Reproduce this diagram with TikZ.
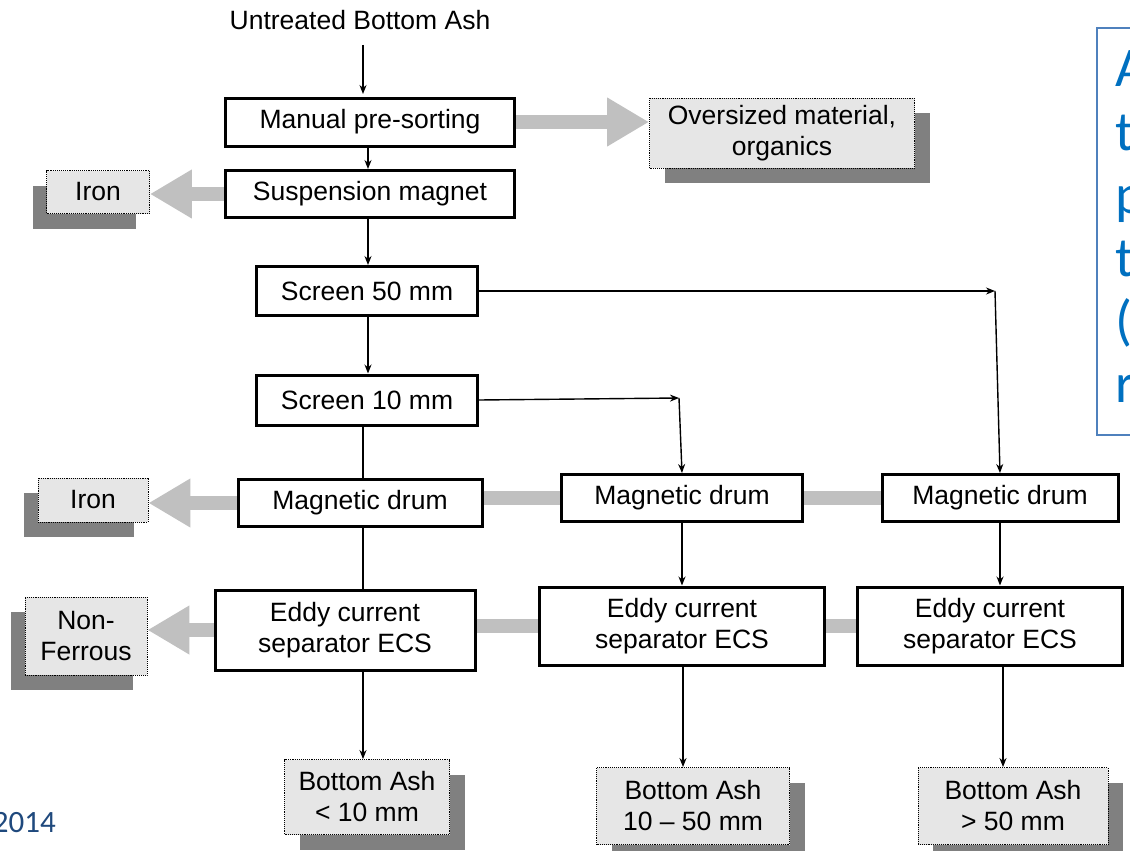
\documentclass[tikz,border=0pt]{standalone}
\usepackage{fontspec}
\setmainfont{Liberation Sans}
\newfontfamily\calfont{Carlito}
\usetikzlibrary{arrows.meta,shadows}
\definecolor{outfill}{HTML}{E6E6E6}
\definecolor{shadowgray}{HTML}{808080}
\definecolor{bargray}{HTML}{C0C0C0}
\definecolor{bluetext}{HTML}{0070C0}
\definecolor{blueborder}{HTML}{4F81BD}
\definecolor{yeartext}{HTML}{1F497D}
\tikzset{
  lbl/.style={font=\fontsize{26.5}{31}\selectfont, align=center, inner sep=0pt},
  proc/.style={lbl, draw=black, line width=3pt, fill=white},
  outR/.style={lbl, draw=black, densely dotted, line width=0.9pt, fill=outfill,
     drop shadow={shadow xshift=15pt, shadow yshift=-15pt, fill=shadowgray, opacity=1}},
  outL/.style={lbl, draw=black, densely dotted, line width=0.9pt, fill=outfill,
     drop shadow={shadow xshift=-14pt, shadow yshift=-15pt, fill=shadowgray, opacity=1}},
  conn/.style={line width=1.4pt, -{Stealth[length=9pt,width=7pt]}},
  plain/.style={line width=1.4pt},
  grayarrow/.style={bargray, line width=14pt, -{Triangle[length=42pt,width=46pt]}},
  graybar/.style={bargray, line width=14pt},
  slidetxt/.style={anchor=base west, inner sep=0pt, text=bluetext, font=\calfont\fontsize{56}{63}\selectfont},
}
\begin{document}
\begin{tikzpicture}[x=1pt,y=-1pt]
\useasboundingbox (0,0) rectangle (1130,851);
\clip (0,0) rectangle (1130,851);
\fill[white] (0,0) rectangle (1130,851);

% main process boxes
\node[proc, minimum width=289pt, minimum height=48pt] (mps) at (370,122) {Manual pre-sorting};
\node[proc, minimum width=289pt, minimum height=47pt] (susp) at (370,194) {Suspension magnet};
\node[proc, minimum width=221pt, minimum height=49pt] (scr50) at (367,291) {Screen 50 mm};
\node[proc, minimum width=221pt, minimum height=50pt] (scr10) at (367,400) {Screen 10 mm};
\node[proc, minimum width=244pt, minimum height=47pt] (md1) at (360,503) {Magnetic drum};
\node[proc, minimum width=241pt, minimum height=47pt] (md2) at (682,498) {Magnetic drum};
\node[proc, minimum width=236pt, minimum height=47pt] (md3) at (1000,498) {Magnetic drum};
\node[proc, minimum width=260pt, minimum height=80pt] (ecs1) at (345,630) {Eddy current\\separator ECS};
\node[proc, minimum width=285pt, minimum height=78pt] (ecs2) at (682,626) {Eddy current\\separator ECS};
\node[proc, minimum width=265pt, minimum height=78pt] (ecs3) at (990,626) {Eddy current\\separator ECS};

% output boxes
\node[outR, minimum width=265pt, minimum height=70pt] (over) at (782,133) {Oversized material,\\organics};
\node[outL, minimum width=103pt, minimum height=43pt] (iron1) at (98,192) {Iron};
\node[outL, minimum width=110pt, minimum height=44pt] (iron2) at (93,500) {Iron};
\node[outL, minimum width=122pt, minimum height=78pt] (nonf) at (86,636) {Non-\\Ferrous};
\node[outR, minimum width=165pt, minimum height=75pt] (ba1) at (367,797) {Bottom Ash\\< 10 mm};
\node[outR, minimum width=193pt, minimum height=77pt] (ba2) at (693,806) {Bottom Ash\\10 – 50 mm};
\node[outR, minimum width=190pt, minimum height=77pt] (ba3) at (1013,806) {Bottom Ash\\> 50 mm};

% input
\node[lbl] (input) at (360,20) {Untreated Bottom Ash};
\coordinate (inStart) at (363,45);
\coordinate (inEnd) at (363,94);
\draw[conn] (inStart) -- (inEnd);

% gray material flows
\draw[grayarrow] (mps.east) -- (mps.east -| over.west);
\draw[grayarrow] (susp.west) -- (susp.west -| iron1.east);
\draw[grayarrow] (md1.west) -- (md1.west -| iron2.east);
\draw[grayarrow] (ecs1.west) -- (ecs1.west -| nonf.east);
\draw[graybar] (md1.east |- md2.west) -- (md2.west);
\draw[graybar] (md2.east) -- (md3.west);
\draw[graybar] (ecs1.east |- ecs2.west) -- (ecs2.west);
\draw[graybar] (ecs2.east) -- (ecs3.west);

% black connectors
\draw[conn] (mps.south -| 368,0) -- (susp.north -| 368,0);
\draw[conn] (susp.south -| 368,0) -- (scr50.north -| 368,0);
\draw[conn] (scr50.south -| 368,0) -- (scr10.north -| 368,0);
\draw[plain] (scr10.south -| 363,0) -- (md1.north -| 363,0);
\draw[plain] (md1.south -| 363,0) -- (ecs1.north -| 363,0);
\draw[conn] (ecs1.south -| 363,0) -- (ba1.north -| 363,0);

\coordinate (c50) at (995,291);
\draw[conn] (scr50.east) -- (c50);
\draw[conn] (c50) -- (md3.north);
\coordinate (c10) at (679,398);
\draw[conn] (scr10.east) -- (c10);
\draw[conn] (c10) -- (md2.north);

\draw[conn] (md2.south) -- (md2.south |- ecs2.north);
\draw[conn] (md3.south) -- (md3.south |- ecs3.north);
\draw[conn] (ecs2.south -| 683,0) -- (ba2.north -| 683,0);
\draw[conn] (ecs3.south -| 1003,0) -- (ba3.north -| 1003,0);

% slide remnants
\draw[blueborder, line width=1.5pt] (1097,28) rectangle (1160,435);
\node[slidetxt] (s1) at (1115,87) {A};
\node[slidetxt] (s2) at (1115,150) {t};
\node[slidetxt] (s3) at (1115,213) {p};
\node[slidetxt] (s4) at (1115,276) {t};
\node[slidetxt] (s5) at (1115,339) {(};
\node[slidetxt] (s6) at (1115,402) {r};
\node[anchor=base east, inner sep=0pt, text=yeartext, font=\calfont\fontsize{31}{36}\selectfont] (year) at (56,832) {2014};
\end{tikzpicture}
\end{document}
